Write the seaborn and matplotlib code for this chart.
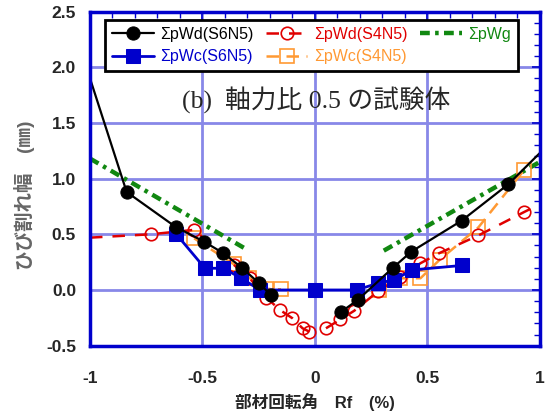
import matplotlib
matplotlib.use("Agg")
import matplotlib.pyplot as plt
import seaborn as sns
import numpy as np
import pandas as pd

# ΣpWd(S6N5) - black, two branches (first/last points are line ends without marker)
wd6_left_x = [-1.0, -0.837, -0.619, -0.493, -0.407, -0.325, -0.248, -0.196]
wd6_left_y = [1.90, 0.88, 0.566, 0.434, 0.33, 0.20, 0.06, -0.045]
wd6_right_x = [0.114, 0.19, 0.347, 0.429, 0.652, 0.86, 1.0]
wd6_right_y = [-0.20, -0.09, 0.20, 0.345, 0.622, 0.95, 1.23]

# ΣpWc(S6N5) - blue
wc6_x = [-0.616, -0.489, -0.407, -0.327, -0.245, 0.0, 0.185, 0.279, 0.35, 0.433, 0.652]
wc6_y = [0.50, 0.195, 0.195, 0.105, 0.0, 0.0, 0.0, 0.06, 0.09, 0.18, 0.22]

# ΣpWd(S4N5) - red dashed
wd4_left_x = [-1.0, -0.73, -0.537, -0.36, -0.29, -0.216, -0.155, -0.10, -0.055, -0.025]
wd4_left_y = [0.47, 0.50, 0.54, 0.225, 0.105, -0.068, -0.18, -0.254, -0.344, -0.374]
wd4_right_x = [0.049, 0.113, 0.175, 0.281, 0.379, 0.469, 0.552, 0.727, 0.93, 0.975]
wd4_right_y = [-0.344, -0.265, -0.186, -0.012, 0.12, 0.24, 0.33, 0.49, 0.70, 0.745]

# ΣpWc(S4N5) - orange dashed
wc4_left_x = [-0.537, -0.36, -0.293, -0.218, -0.151]
wc4_left_y = [0.464, 0.23, 0.11, 0.01, 0.006]
wc4_right_x = [0.284, 0.379, 0.469, 0.554, 0.727, 0.93]
wc4_right_y = [0.0, 0.105, 0.105, 0.27, 0.563, 1.077]

# ΣpWg - green
wg_left_x = [-1.0, -0.30]
wg_left_y = [1.18, 0.36]
wg_right_x = [0.306, 1.0]
wg_right_y = [0.353, 1.15]

labels = ["ΣpWd(S6N5)", "ΣpWc(S6N5)", "ΣpWd(S4N5)", "ΣpWc(S4N5)", "ΣpWg"]
colors = ["black", "#0000cc", "#e00000", "#ff9933", "#118811"]

sns.set_style("white")
plt.rcParams['font.family'] = ['Liberation Sans', 'Noto Sans CJK JP', 'DejaVu Sans']

fig = plt.figure(figsize=(5.47, 4.12), dpi=100)
ax = fig.add_axes([0.1645, 0.161, 0.8225, 0.811])

# grid lines behind the data
for v in [-0.5, 0, 0.5]:
    ax.axvline(v, color="#8888e8", lw=2, zorder=0)
for h in [0, 0.5, 1.0, 1.5, 2.0]:
    ax.axhline(h, color="#8888e8", lw=2, zorder=0)

# green
gkw = dict(color=colors[4], lw=3.2, linestyle=(0, (2.2, 1.2, 0.8, 1.2)), sort=False, estimator=None)
sns.lineplot(x=wg_left_x, y=wg_left_y, ax=ax, label=labels[4], **gkw)
sns.lineplot(x=wg_right_x, y=wg_right_y, ax=ax, label="_nolegend_", **gkw)

# orange
okw = dict(color=colors[3], lw=1.8, linestyle=(0, (5, 3)), marker="s", ms=10,
           mfc="none", mec=colors[3], mew=1.2, sort=False, estimator=None)
sns.lineplot(x=wc4_left_x, y=wc4_left_y, ax=ax, label=labels[3], **okw)
sns.lineplot(x=wc4_right_x, y=wc4_right_y, ax=ax, label="_nolegend_", **okw)

# red
rkw = dict(color=colors[2], lw=1.8, linestyle=(0, (5, 4)), marker="o", ms=9,
           mfc="none", mec=colors[2], mew=1.2, sort=False, estimator=None)
sns.lineplot(x=wd4_left_x, y=wd4_left_y, ax=ax, label=labels[2],
             markevery=list(range(1, len(wd4_left_x))), **rkw)
sns.lineplot(x=wd4_right_x, y=wd4_right_y, ax=ax, label="_nolegend_",
             markevery=list(range(0, len(wd4_right_x) - 1)), **rkw)

# blue
sns.lineplot(x=wc6_x, y=wc6_y, ax=ax, color=colors[1], lw=2, marker="s", ms=10,
             mfc=colors[1], mec=colors[1], label=labels[1], sort=False, estimator=None)

# black
bkw = dict(color=colors[0], lw=1.6, marker="o", ms=9.5, mfc="black", mec="black",
           sort=False, estimator=None)
sns.lineplot(x=wd6_left_x, y=wd6_left_y, ax=ax, label=labels[0],
             markevery=list(range(1, len(wd6_left_x))), **bkw)
sns.lineplot(x=wd6_right_x, y=wd6_right_y, ax=ax, label="_nolegend_",
             markevery=list(range(0, len(wd6_right_x) - 1)), **bkw)

ax.set_xlim(-1, 1)
ax.set_ylim(-0.5, 2.5)
ax.set_xticks([-1, -0.5, 0, 0.5, 1])
ax.set_xticklabels(["-1", "-0.5", "0", "0.5", "1"])
ax.set_yticks([-0.5, 0, 0.5, 1.0, 1.5, 2.0, 2.5])
ax.set_yticklabels(["-0.5", "0.0", "0.5", "1.0", "1.5", "2.0", "2.5"])
ax.set_xticks(np.arange(-1, 1.01, 0.1), minor=True)
ax.set_yticks(np.arange(-0.5, 2.51, 0.1), minor=True)
ax.tick_params(which="both", direction="in", top=True, right=True, color="#0000cc")
ax.tick_params(which="major", length=6, width=1.2, labelsize=12.5)
ax.tick_params(axis="y", which="major", pad=10)
ax.tick_params(axis="x", which="major", pad=18)
ax.tick_params(which="minor", length=4, width=1)
for t in ax.get_xticklabels() + ax.get_yticklabels():
    t.set_fontweight("bold")
for s in ax.spines.values():
    s.set_color("#0000cc")
    s.set_linewidth(2.5)

ax.set_xlabel("部材回転角　Rf　(%)", fontsize=12, fontweight="bold", labelpad=5)
fig.text(0.045, 0.527, "ひび割れ幅　(㎜)", rotation=90, ha="center", va="center",
         fontsize=14, fontweight="bold", color="#666666")

ax.text(0.503, 0.735, "(b)  軸力比 0.5 の試験体", transform=ax.transAxes, ha="center",
        va="center", fontsize=18.5, family=["Liberation Serif", "Noto Sans CJK JP"])

# legend in order
hmap = {}
for ln in ax.lines:
    if ln.get_label() in labels:
        hmap[ln.get_label()] = ln
handles = [hmap[l] for l in labels]
leg = ax.legend(handles, labels, ncol=3, loc="upper left",
                bbox_to_anchor=(0.033, 0.82, 0.918, 0.155), mode="expand",
                borderaxespad=0, frameon=True, fancybox=False, edgecolor="black",
                fontsize=11.5, handlelength=2.6, borderpad=0.45, labelspacing=0.45,
                handletextpad=0.4, framealpha=1)
leg.get_frame().set_linewidth(2)
for txt, c in zip(leg.get_texts(), colors):
    txt.set_color(c)

fig.savefig("out.png", dpi=100)
